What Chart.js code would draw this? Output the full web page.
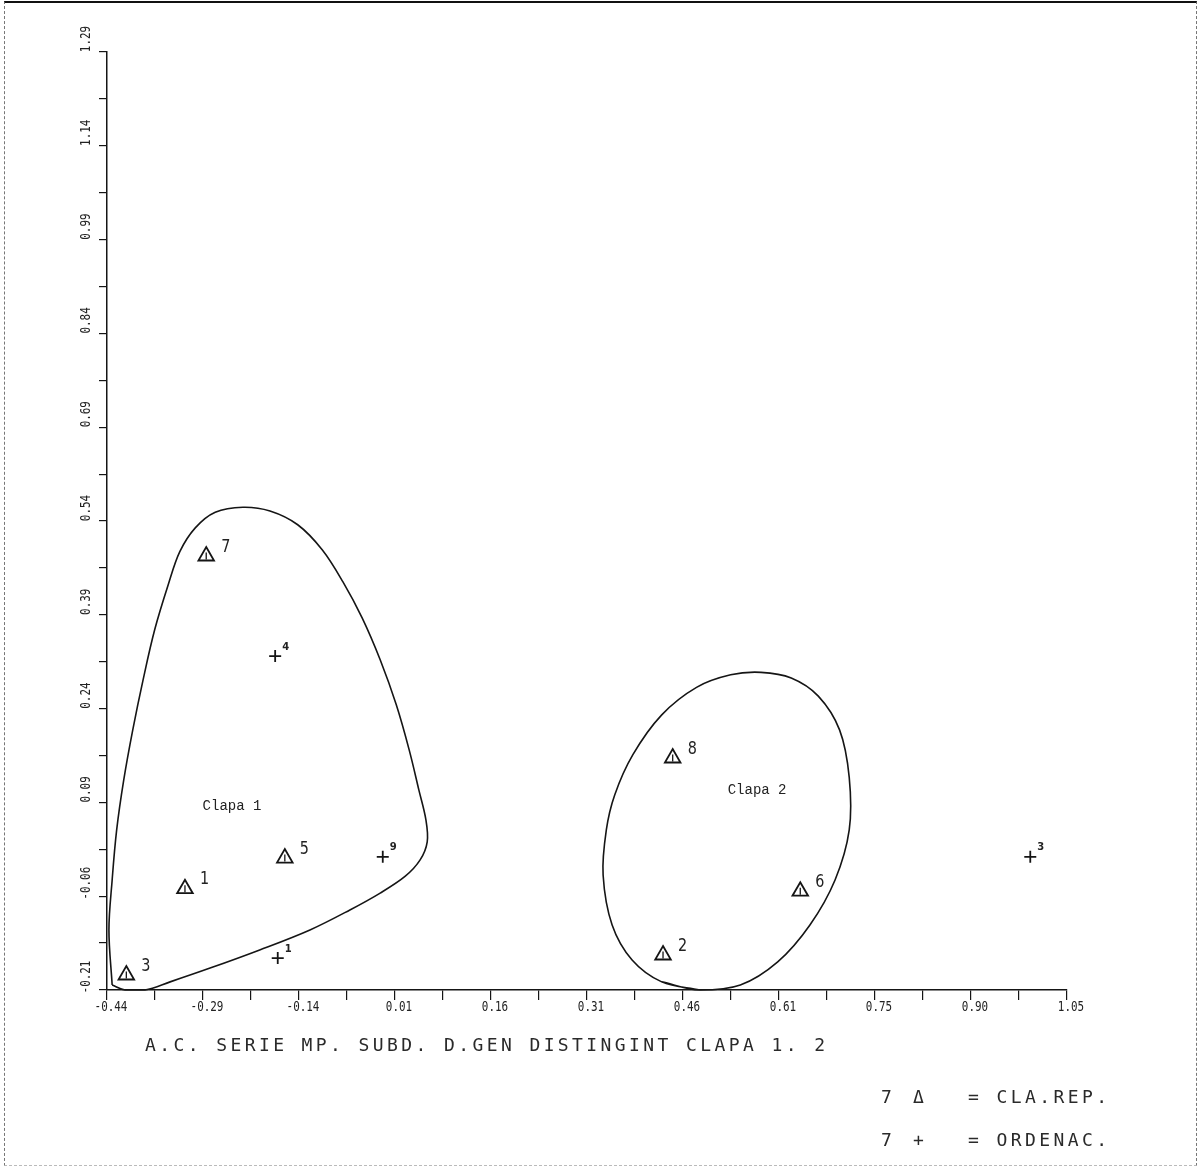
<!DOCTYPE html>
<html>
<head>
<meta charset="utf-8">
<script src="https://cdn.jsdelivr.net/npm/chart.js@4.4.1/dist/chart.umd.min.js"></script>
<style>
  html, body { margin: 0; padding: 0; background: #fff; }
  #page { position: relative; width: 1202px; height: 1169px; overflow: hidden; }
  #frame {
    position: absolute; left: 4px; top: 1px; width: 1193px; height: 1165px; box-sizing: border-box;
    border-top: 2px solid #111; border-left: 1px dashed #777; border-right: 1px dashed #777; border-bottom: 1px dashed #bbb;
  }
  canvas { position: absolute; left: 0; top: 0; }
  .plot-text {
    position: absolute; font-family: "DejaVu Sans Mono", monospace; font-size: 18px; color: #2a2a2a;
    letter-spacing: 3.4px; white-space: nowrap; line-height: 1;
  }
</style>
</head>
<body>
<div id="page">
  <div id="frame"></div>
  <canvas id="chart" width="1202" height="1169"></canvas>
  <div class="plot-text" style="left:145px; top:1036px;">A.C. SERIE MP. SUBD. D.GEN DISTINGINT CLAPA 1. 2</div>
  <div class="plot-text" style="left:881px; top:1088px;">7</div>
  <div class="plot-text" style="left:913px; top:1088px;">&#916;</div>
  <div class="plot-text" style="left:968px; top:1088px;">= CLA.REP.</div>
  <div class="plot-text" style="left:881px; top:1131px;">7</div>
  <div class="plot-text" style="left:913px; top:1131px;">+</div>
  <div class="plot-text" style="left:968px; top:1131px;">= ORDENAC.</div>
</div>
<script>
// axis ranges and tick labels
const xMin = -0.44, xMax = 1.05;
const yMin = -0.21, yMax = 1.29;
const xTickLabels = ['-0.44', '-0.29', '-0.14', '0.01', '0.16', '0.31', '0.46', '0.61', '0.75', '0.90', '1.05'];
const yTickLabels = ['-0.21', '-0.06', '0.09', '0.24', '0.39', '0.54', '0.69', '0.84', '0.99', '1.14', '1.29'];

// triangles = CLA.REP.
const claRepIds = ['7', '1', '5', '3', '8', '2', '6'];
const claRepX = [-0.286, -0.319, -0.164, -0.410, 0.438, 0.423, 0.636];
const claRepY = [0.484, -0.048, 0.001, -0.186, 0.161, -0.154, -0.052];

// crosses = ORDENAC.
const ordenacIds = ['4', '9', '1', '3'];
const ordenacX = [-0.179, -0.012, -0.175, 0.993];
const ordenacY = [0.324, 0.003, -0.159, 0.003];

// hand drawn group outlines
const clapa1X = [-0.432, -0.437, -0.432, -0.425, -0.414, -0.400, -0.384, -0.366, -0.345, -0.327, -0.303, -0.272,
                 -0.229, -0.187, -0.144, -0.106, -0.074, -0.044, -0.016, 0.009, 0.029, 0.044, 0.055, 0.057, 0.046,
                 0.023, -0.016, -0.063, -0.125, -0.203, -0.280, -0.342, -0.381, -0.412, -0.432];
const clapa1Y = [-0.202, -0.114, -0.034, 0.046, 0.126, 0.206, 0.286, 0.366, 0.438, 0.491, 0.529, 0.554,
                 0.562, 0.556, 0.534, 0.494, 0.443, 0.385, 0.318, 0.246, 0.174, 0.110, 0.062, 0.027, -0.002,
                 -0.028, -0.055, -0.082, -0.114, -0.146, -0.175, -0.197, -0.210, -0.210, -0.202];
const clapa2X = [0.480, 0.421, 0.375, 0.344, 0.330, 0.335, 0.348, 0.376, 0.421, 0.475, 0.528, 0.575, 0.622,
                 0.664, 0.697, 0.712, 0.712, 0.690, 0.651, 0.601, 0.543, 0.480, 0.421];
const clapa2Y = [-0.210, -0.197, -0.162, -0.106, -0.026, 0.046, 0.102, 0.166, 0.230, 0.274, 0.294, 0.298, 0.289,
                 0.260, 0.206, 0.130, 0.046, -0.034, -0.106, -0.165, -0.202, -0.210, -0.197];

const groupNames = ['Clapa 1', 'Clapa 2'];
const groupX = [-0.246, 0.569];
const groupY = [0.083, 0.110];

const toPoints = (xs, ys) => xs.map((v, i) => ({ x: v, y: ys[i] }));
const ink = '#151515';

function tickValues(min, max, count) {
  // major ticks at the labels plus one minor tick in between
  const out = [];
  const steps = (count - 1) * 2;
  for (let i = 0; i <= steps; i++) out.push({ value: min + i * (max - min) / steps });
  return out;
}

const plotLabels = {
  id: 'plotLabels',
  afterDraw(chart) {
    const { ctx, scales: { x, y } } = chart;
    ctx.save();
    ctx.fillStyle = '#222';
    ctx.textAlign = 'center';
    ctx.textBaseline = 'middle';
    ctx.font = '14px "DejaVu Sans Mono"';

    xTickLabels.forEach((t, i) => {
      const px = x.getPixelForValue(xMin + i * (xMax - xMin) / (xTickLabels.length - 1));
      ctx.save();
      ctx.translate(px + 4, y.bottom + 17);
      ctx.scale(0.78, 1);
      ctx.fillText(t, 0, 0);
      ctx.restore();
    });

    yTickLabels.forEach((t, i) => {
      const py = y.getPixelForValue(yMin + i * (yMax - yMin) / (yTickLabels.length - 1));
      ctx.save();
      ctx.translate(x.left - 21, py - 13);
      ctx.rotate(-Math.PI / 2);
      ctx.scale(0.78, 1);
      ctx.fillText(t, 0, 0);
      ctx.restore();
    });

    // point numbers
    ctx.textAlign = 'left';
    ctx.font = '18px "DejaVu Sans"';
    chart.getDatasetMeta(2).data.forEach((pt, i) => {
      ctx.save();
      ctx.translate(pt.x + 15, pt.y - 9);
      ctx.scale(0.8, 1);
      ctx.fillText(claRepIds[i], 0, 0);
      ctx.restore();
    });
    ctx.font = 'bold 10px "DejaVu Sans"';
    chart.getDatasetMeta(4).data.forEach((pt, i) => {
      ctx.fillText(ordenacIds[i], pt.x + 7, pt.y - 9);
    });

    // group names
    ctx.textAlign = 'center';
    ctx.font = '14px "Liberation Mono"';
    groupNames.forEach((g, i) => {
      ctx.fillText(g, x.getPixelForValue(groupX[i]), y.getPixelForValue(groupY[i]));
    });
    ctx.restore();
  }
};

const outline = {
  showLine: true, borderColor: ink, borderWidth: 1.6, pointRadius: 0, tension: 0.35, clip: false, fill: false
};

new Chart(document.getElementById('chart'), {
  type: 'scatter',
  data: {
    datasets: [
      Object.assign({ label: 'Clapa 1', data: toPoints(clapa1X, clapa1Y) }, outline),
      Object.assign({ label: 'Clapa 2', data: toPoints(clapa2X, clapa2Y) }, outline),
      {
        label: 'CLA.REP.', data: toPoints(claRepX, claRepY),
        pointStyle: 'triangle', pointRadius: 9, borderWidth: 1.8, borderColor: ink, backgroundColor: 'transparent'
      },
      {
        label: 'CLA.REP. mark', data: toPoints(claRepX, claRepY),
        pointStyle: 'line', rotation: 90, pointRadius: 3.5, borderWidth: 1.3, borderColor: ink
      },
      {
        label: 'ORDENAC.', data: toPoints(ordenacX, ordenacY),
        pointStyle: 'cross', pointRadius: 6, borderWidth: 1.8, borderColor: ink
      }
    ]
  },
  options: {
    responsive: false,
    animation: false,
    layout: { padding: { left: 99, right: 135, top: 52, bottom: 169 } },
    plugins: { legend: { display: false }, tooltip: { enabled: false } },
    scales: {
      x: {
        type: 'linear', min: xMin, max: xMax,
        afterBuildTicks: s => { s.ticks = tickValues(xMin, xMax, xTickLabels.length); },
        ticks: { display: false },
        grid: { drawOnChartArea: false, tickLength: 10, color: ink, lineWidth: 1.2 },
        border: { color: ink, width: 1.5 }
      },
      y: {
        type: 'linear', min: yMin, max: yMax,
        afterBuildTicks: s => { s.ticks = tickValues(yMin, yMax, yTickLabels.length); },
        ticks: { display: false },
        grid: { drawOnChartArea: false, tickLength: 8, color: ink, lineWidth: 1.2 },
        border: { color: ink, width: 1.5 }
      }
    }
  },
  plugins: [plotLabels]
});
</script>
</body>
</html>
